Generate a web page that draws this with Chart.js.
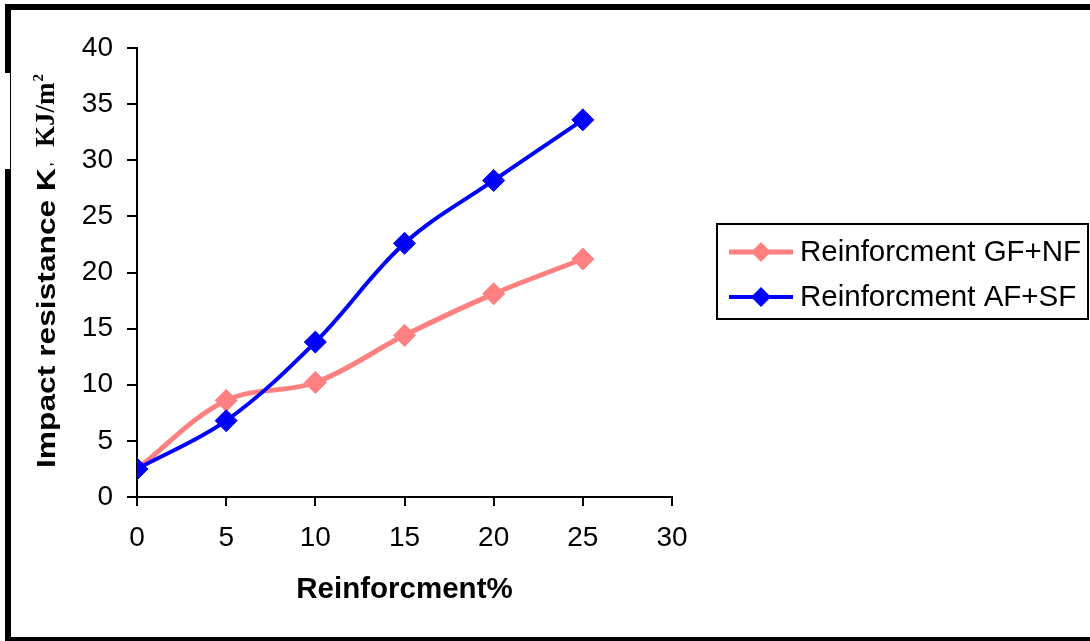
<!DOCTYPE html>
<html lang="en">
<head>
    <meta charset="UTF-8">
    <title>Impact resistance vs reinforcement</title>
    <style>
        body {
            margin: 0;
            background-color: white;
        }

        #chart-box {
            position: relative;
            width: 1090px;
            height: 641px;
        }
    </style>
</head>
<body>
    <div id="chart-box">
        <canvas id="impactChart"></canvas>
    </div>
    <script src="https://cdn.jsdelivr.net/npm/chart.js"></script>
    <script>
        // Data
        const reinforcement = [0, 5, 10, 15, 20, 25];
        const gfNf = [2.5, 8.6, 10.2, 14.4, 18.1, 21.2];
        const afSf = [2.5, 6.8, 13.8, 22.6, 28.2, 33.6];
        const seriesLabels = ['Reinforcment GF+NF', 'Reinforcment AF+SF'];
        const seriesColors = ['#ff8080', '#0000ff'];
        const xTitle = 'Reinforcment%';
        const yTitleMain = 'Impact resistance K';
        const yTitleSub = ',';
        const yTitleUnit = 'KJ/m';

        const toPoints = (ys) => reinforcement.map((x, i) => ({ x: x, y: ys[i] }));

        const sansFont = 'Arial, "Liberation Sans", sans-serif';

        // Frame around the whole figure (no right edge)
        const framePlugin = {
            id: 'frame',
            beforeDraw(chart) {
                const ctx = chart.ctx;
                ctx.save();
                ctx.fillStyle = 'white';
                ctx.fillRect(0, 0, chart.width, chart.height);
                ctx.fillStyle = 'black';
                ctx.fillRect(5, 4, chart.width - 5, 6);   // top
                ctx.fillRect(5, 4, 6, chart.height - 4);  // left
                ctx.fillRect(5, 637, chart.width - 5, 4); // bottom
                ctx.fillStyle = 'white';
                ctx.fillRect(5, 73, 5, 96);               // gap in left edge
                ctx.restore();
            }
        };

        // Rotated y title with mixed fonts
        const yTitlePlugin = {
            id: 'yTitle',
            afterDraw(chart) {
                const ctx = chart.ctx;
                ctx.save();
                ctx.translate(55, 468);
                ctx.rotate(-Math.PI / 2);
                ctx.fillStyle = 'black';
                ctx.textBaseline = 'alphabetic';
                ctx.textAlign = 'left';

                ctx.font = 'bold 26px ' + sansFont;
                const w = ctx.measureText(yTitleMain).width;
                const sx = 300 / w;
                ctx.save();
                ctx.scale(sx, 1);
                ctx.fillText(yTitleMain, 0, 0);
                ctx.restore();

                ctx.font = 'bold 12px ' + sansFont;
                ctx.fillText(yTitleSub, 302, -3);

                let pos = 321;
                ctx.font = 'bold 27px "Times New Roman", "Liberation Serif", serif';
                ctx.fillText(yTitleUnit, pos, -1);
                pos += ctx.measureText(yTitleUnit).width;
                ctx.font = 'bold 15px "Times New Roman", "Liberation Serif", serif';
                ctx.fillText('2', pos + 1, -12);
                ctx.restore();
            }
        };

        // Boxed legend on the right
        const legendPlugin = {
            id: 'boxLegend',
            afterDraw(chart) {
                const ctx = chart.ctx;
                ctx.save();
                ctx.strokeStyle = 'black';
                ctx.lineWidth = 2;
                ctx.strokeRect(717, 224, 371, 95);
                const rows = [252, 297];
                chart.data.datasets.forEach((ds, i) => {
                    const y = rows[i];
                    ctx.strokeStyle = ds.borderColor;
                    ctx.lineWidth = ds.borderWidth;
                    ctx.beginPath();
                    ctx.moveTo(729, y);
                    ctx.lineTo(793, y);
                    ctx.stroke();
                    ctx.fillStyle = ds.backgroundColor;
                    ctx.beginPath();
                    ctx.moveTo(761 - 10, y);
                    ctx.lineTo(761, y - 10);
                    ctx.lineTo(761 + 10, y);
                    ctx.lineTo(761, y + 10);
                    ctx.closePath();
                    ctx.fill();
                    ctx.fillStyle = 'black';
                    ctx.font = '29.5px ' + sansFont;
                    ctx.textBaseline = 'middle';
                    ctx.fillText(ds.label, 800, y + 1);
                });
                ctx.restore();
            }
        };

        const ctx = document.getElementById('impactChart').getContext('2d');
        const impactChart = new Chart(ctx, {
            type: 'line',
            data: {
                datasets: [
                    {
                        label: seriesLabels[0],
                        data: toPoints(gfNf),
                        borderColor: seriesColors[0],
                        backgroundColor: seriesColors[0],
                        borderWidth: 5,
                        pointStyle: 'rectRot',
                        pointRadius: 11,
                        pointBorderWidth: 1,
                        tension: 0.35,
                        order: 2
                    },
                    {
                        label: seriesLabels[1],
                        data: toPoints(afSf),
                        borderColor: seriesColors[1],
                        backgroundColor: seriesColors[1],
                        borderWidth: 4,
                        pointStyle: 'rectRot',
                        pointRadius: 11,
                        pointBorderWidth: 1,
                        tension: 0.35,
                        order: 1
                    }
                ]
            },
            options: {
                responsive: true,
                maintainAspectRatio: false,
                animation: false,
                layout: {
                    padding: { left: 0, right: 418, top: 48, bottom: 0 }
                },
                plugins: {
                    legend: { display: false },
                    tooltip: { enabled: false }
                },
                scales: {
                    x: {
                        type: 'linear',
                        min: 0,
                        max: 30,
                        afterFit: (scale) => { scale.height = 144; },
                        ticks: {
                            stepSize: 5,
                            color: 'black',
                            padding: 15,
                            font: { family: sansFont, size: 28 }
                        },
                        grid: {
                            drawOnChartArea: false,
                            drawTicks: true,
                            tickLength: 9,
                            lineWidth: 2,
                            color: 'black'
                        },
                        border: { color: 'black', width: 2 },
                        title: {
                            display: true,
                            text: xTitle,
                            color: 'black',
                            padding: { top: 0, bottom: 33 },
                            font: { family: sansFont, size: 29.5, weight: 'bold' }
                        }
                    },
                    y: {
                        min: 0,
                        max: 40,
                        afterFit: (scale) => { scale.width = 137; },
                        ticks: {
                            stepSize: 5,
                            color: 'black',
                            padding: 14,
                            font: { family: sansFont, size: 28 }
                        },
                        grid: {
                            drawOnChartArea: false,
                            drawTicks: true,
                            tickLength: 10,
                            lineWidth: 2,
                            color: 'black'
                        },
                        border: { color: 'black', width: 2 }
                    }
                }
            },
            plugins: [framePlugin, yTitlePlugin, legendPlugin]
        });
    </script>
</body>
</html>
